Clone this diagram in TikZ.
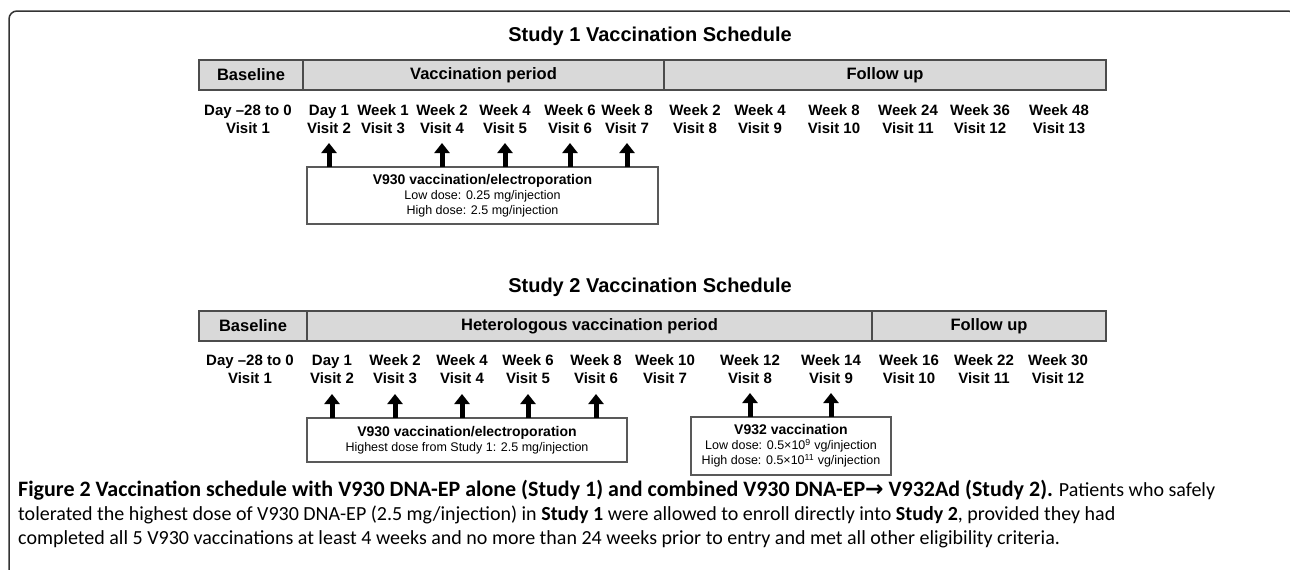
\documentclass[tikz,border=0pt]{standalone}
\usepackage{fontspec}
\setmainfont{Liberation Sans}
\newfontfamily\capfont{Carlito}
\newfontfamily\symfont{DejaVu Sans}
\usetikzlibrary{arrows.meta,positioning}

\tikzset{
  phase/.style={draw=black!70, line width=1.5pt, fill=black!15, outer sep=0pt, inner sep=0pt,
    minimum height=30pt, font=\fontsize{16.5}{19}\selectfont\bfseries},
  visit/.style={align=center, inner sep=0pt, font=\fontsize{15}{18}\selectfont\bfseries},
  dosebox/.style={draw=black!65, line width=1.2pt, fill=white, inner sep=0pt, outer sep=0pt,
    align=center, anchor=north west, font=\fontsize{12.5}{15}\selectfont},
  shot/.style={line width=5pt, -{Triangle[width=15pt,length=10pt]}},
  heading/.style={font=\fontsize{20}{22}\selectfont\bfseries}
}

\begin{document}
\begin{tikzpicture}[x=1pt, y=-1pt]
        \useasboundingbox (0,0) rectangle (1290,570);
        % frame
        \draw[black!80, line width=1.5pt, rounded corners=8pt] (9,575) -- (9,11) -- (1296,11) -- (1296,575);

        % study 1
        \node[heading] (t1) at (650,36) {Study 1 Vaccination Schedule};
        \node[phase, minimum width=104pt, anchor=north west] (base1) at (199,60) {Baseline};
        \node[phase, minimum width=361pt, right=0pt of base1] (vac1) {Vaccination period};
        \node[phase, minimum width=442pt, right=0pt of vac1] (fol1) {Follow up};

        \foreach \xp/\wk/\vs [count=\i] in {248/Day –28 to 0/Visit 1, 329/Day 1/Visit 2,
            383/Week 1/Visit 3, 442/Week 2/Visit 4, 505/Week 4/Visit 5, 570/Week 6/Visit 6,
            627/Week 8/Visit 7, 695/Week 2/Visit 8, 760/Week 4/Visit 9, 834/Week 8/Visit 10,
            908/Week 24/Visit 11, 980/Week 36/Visit 12, 1059/Week 48/Visit 13}
          \node[visit] (a\i) at (\xp,119) {\wk\\\vs};

        \node[dosebox, minimum width=351pt, minimum height=57pt] (box1) at (307,167)
          {{\fontsize{14}{17}\selectfont\bfseries V930 vaccination/electroporation}\\
           Low dose: 0.25 mg/injection\\High dose: 2.5 mg/injection};
        \foreach \i in {2,4,5,6,7}
          \draw[shot] (box1.north -| a\i.south) -- ++(0,-24);

        % study 2
        \node[heading] (t2) at (650,287) {Study 2 Vaccination Schedule};
        \node[phase, minimum width=108pt, anchor=north west] (base2) at (199,311) {Baseline};
        \node[phase, minimum width=565pt, right=0pt of base2] (vac2) {Heterologous vaccination period};
        \node[phase, minimum width=234pt, right=0pt of vac2] (fol2) {Follow up};

        \foreach \xp/\wk/\vs [count=\i] in {250/Day –28 to 0/Visit 1, 332/Day 1/Visit 2,
            395/Week 2/Visit 3, 462/Week 4/Visit 4, 528/Week 6/Visit 5, 596/Week 8/Visit 6,
            665/Week 10/Visit 7, 750/Week 12/Visit 8, 831/Week 14/Visit 9, 909/Week 16/Visit 10,
            984/Week 22/Visit 11, 1058/Week 30/Visit 12}
          \node[visit] (b\i) at (\xp,369) {\wk\\\vs};

        \node[dosebox, minimum width=320pt, minimum height=44pt] (box2) at (307,418)
          {{\fontsize{14}{17}\selectfont\bfseries V930 vaccination/electroporation}\\
           Highest dose from Study 1: 2.5 mg/injection};
        \node[dosebox, minimum width=200pt, minimum height=58pt] (box3) at (691,417)
          {{\fontsize{14}{17}\selectfont\bfseries V932 vaccination}\\
           Low dose: 0.5×10\textsuperscript{9} vg/injection\\
           High dose: 0.5×10\textsuperscript{11} vg/injection};
        \foreach \i in {2,3,4,5,6}
          \draw[shot] (box2.north -| b\i.south) -- ++(0,-24);
        \foreach \i in {8,9}
          \draw[shot] (box3.north -| b\i.south) -- ++(0,-24);

        % caption
        \node[anchor=north west, align=left, inner sep=0pt, font=\capfont\fontsize{20}{24}\selectfont] (cap) at (18,480)
          {{\fontsize{22}{24}\selectfont\bfseries Figure 2 Vaccination schedule with V930 DNA-EP alone (Study 1) and combined V930 DNA-EP{\symfont →} V932Ad (Study 2).} Patients who safely\\
           tolerated the highest dose of V930 DNA-EP (2.5 mg/injection) in \textbf{Study 1} were allowed to enroll directly into \textbf{Study 2}, provided they had\\
           completed all 5 V930 vaccinations at least 4 weeks and no more than 24 weeks prior to entry and met all other eligibility criteria.};
    \end{tikzpicture}
\end{document}
